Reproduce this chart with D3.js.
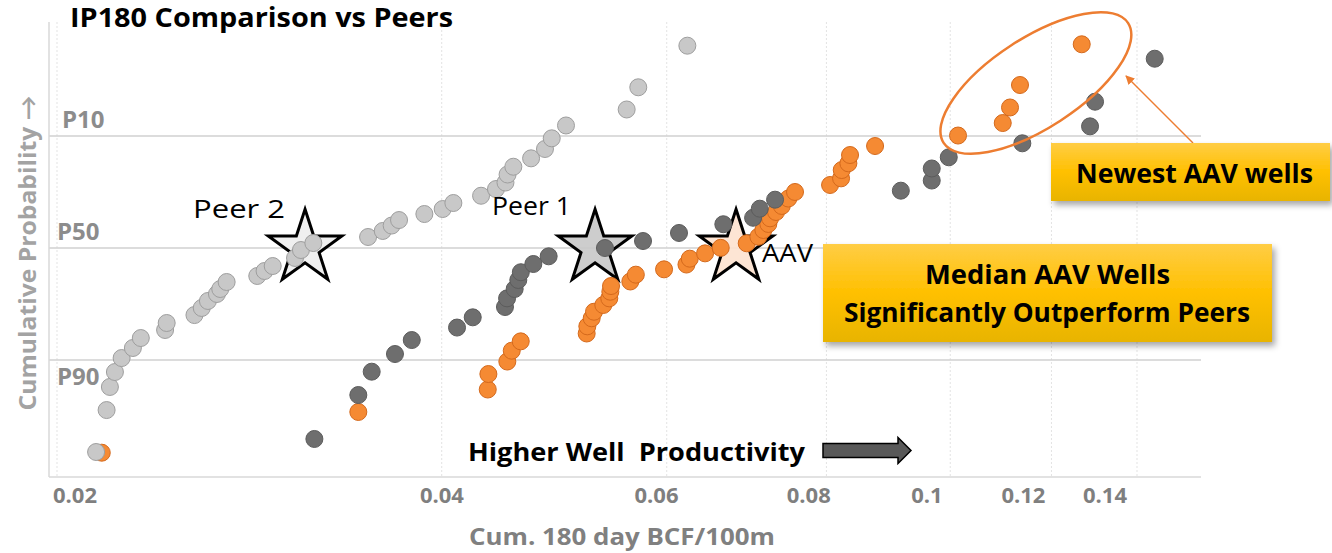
<!DOCTYPE html>
<html lang="en">
<head>
  <meta charset="UTF-8">
  <title>IP180 Comparison vs Peers</title>
  <style>
    * { margin: 0; }
    body { background: #fff; font-family: "Open Sans", Lato, Arial, sans-serif; }
    svg { display: block; }
    text { white-space: pre; }
    .tick-label { font-size: 22px; font-weight: bold; fill: #7f7f7f; }
    .p-label { font-size: 24px; font-weight: bold; fill: #8c8c8c; }
  </style>
</head>
<body>
  <div id="chart"></div>
  <script src="https://cdnjs.cloudflare.com/ajax/libs/d3/7.8.5/d3.min.js"></script>
  <script>
    // x = cum. 180 day BCF/100m, z = normal score of the plotting position
    const peer2X = [0.02146, 0.02187, 0.0220, 0.0222, 0.02247, 0.02293, 0.02326, 0.0243, 0.02437, 0.02562,
      0.02596, 0.02625, 0.02668, 0.02684, 0.02715, 0.02869, 0.02907, 0.0295, 0.03071, 0.03104,
      0.03174, 0.03503, 0.03597, 0.03655, 0.03704, 0.03877, 0.04007, 0.04085, 0.04294, 0.04411,
      0.04487, 0.04504, 0.04551, 0.04699, 0.04818, 0.04877, 0.05004, 0.05582, 0.0570, 0.06227];
    const peer2Z = [-2.334, -1.854, -1.590, -1.419, -1.259, -1.144, -1.030, -0.938, -0.858, -0.767,
      -0.686, -0.606, -0.526, -0.469, -0.389, -0.320, -0.263, -0.206, -0.114, -0.023,
      0.057, 0.126, 0.195, 0.257, 0.320, 0.389, 0.446, 0.515, 0.598, 0.675,
      0.749, 0.841, 0.930, 1.026, 1.133, 1.255, 1.402, 1.585, 1.839, 2.315];

    const peer1X = [0.0318, 0.03442, 0.03526, 0.03677, 0.0379, 0.04112, 0.0423, 0.04483, 0.045, 0.04562,
      0.04592, 0.04613, 0.04718, 0.0485, 0.05368, 0.05749, 0.06134, 0.06644, 0.0701, 0.07095,
      0.07293, 0.09148, 0.09672, 0.09672, 0.09973, 0.11387, 0.12864, 0.12981, 0.14454];
    const peer1Z = [-2.185, -1.682, -1.415, -1.213, -1.053, -0.910, -0.793, -0.675, -0.576, -0.469,
      -0.366, -0.277, -0.183, -0.095, 0, 0.080, 0.172, 0.272, 0.346, 0.450,
      0.553, 0.656, 0.772, 0.910, 1.038, 1.198, 1.392, 1.674, 2.166];

    const aavX = [0.02168, 0.03442, 0.04346, 0.04351, 0.04502, 0.04538, 0.04612, 0.05194, 0.052, 0.05241,
      0.05263, 0.05352, 0.0541, 0.0542, 0.05427, 0.05619, 0.05675, 0.05971, 0.06217, 0.06254,
      0.06429, 0.06613, 0.0693, 0.07077, 0.07141, 0.07205, 0.07228, 0.07306, 0.07382, 0.0747,
      0.0756, 0.08053, 0.08214, 0.08224, 0.08323, 0.08348, 0.08733, 0.10141, 0.10992, 0.11137,
      0.11339, 0.12673];
    const aavZ = [-2.342, -1.876, -1.619, -1.442, -1.299, -1.175, -1.068, -0.978, -0.896, -0.804,
      -0.729, -0.652, -0.576, -0.500, -0.435, -0.383, -0.305, -0.244, -0.189, -0.122,
      -0.061, 0.002, 0.054, 0.129, 0.206, 0.275, 0.340, 0.412, 0.481, 0.566,
      0.641, 0.721, 0.797, 0.892, 0.969, 1.064, 1.167, 1.287, 1.430, 1.608,
      1.865, 2.331];

    // newest AAV wells (circled)
    const newestX = [0.10141, 0.10992, 0.11137, 0.11339, 0.12673];

    const medianNames = ['Peer 2', 'Peer 1', 'AAV'];
    const medianX = [0.03127, 0.05273, 0.06798];

    const xTicks = [0.02, 0.04, 0.06, 0.08, 0.1, 0.12, 0.14];
    const xTickLabels = ['0.02', '0.04', '0.06', '0.08', '0.1', '0.12', '0.14'];
    const pTicks = [10, 50, 90];
    const pTickLabels = ['P10', 'P50', 'P90'];

    const W = 1332, H = 553;
    const svg = d3.select('#chart').append('svg').attr('width', W).attr('height', H);

    // inverse normal cdf (Acklam)
    function probit(p) {
      const a = [-39.6968302866538, 220.946098424521, -275.928510446969, 138.357751867269, -30.6647980661472, 2.50662827745924];
      const b = [-54.4761088283004, 161.585836858041, -155.698979859887, 66.8013118877197, -13.2806815528857];
      const c = [-0.00778489400243029, -0.322396458041136, -2.40075827716184, -2.54973253934373, 4.37466414146497, 2.93816398269878];
      const d = [0.00778469570904146, 0.32246712907004, 2.445134137143, 3.75440866190742];
      const pl = 0.02425;
      let q, r;
      if (p < pl) {
        q = Math.sqrt(-2 * Math.log(p));
        return (((((c[0] * q + c[1]) * q + c[2]) * q + c[3]) * q + c[4]) * q + c[5]) / ((((d[0] * q + d[1]) * q + d[2]) * q + d[3]) * q + 1);
      }
      if (p > 1 - pl) return -probit(1 - p);
      q = p - 0.5; r = q * q;
      return (((((a[0] * r + a[1]) * r + a[2]) * r + a[3]) * r + a[4]) * r + a[5]) * q / (((((b[0] * r + b[1]) * r + b[2]) * r + b[3]) * r + b[4]) * r + 1);
    }

    const plot = { left: 49, right: 1201, top: 22, bottom: 477 };
    const x = d3.scaleLog().domain([0.02, 0.14]).range([57, 1137]);
    // tick labels in the source sit on a slightly compressed copy of the axis
    const xLab = d3.scaleLog().domain([0.02, 0.14]).range([75, 1105]);
    const y = d3.scaleLinear().domain([-2.62, 2.586]).range([plot.bottom, plot.top]);
    const pz = p => probit(1 - p / 100);

    const defs = svg.append('defs');
    const grad = defs.append('linearGradient').attr('id', 'gold').attr('x1', 0).attr('y1', 0).attr('x2', 0).attr('y2', 1);
    grad.append('stop').attr('offset', '0%').attr('stop-color', '#ffcd45');
    grad.append('stop').attr('offset', '50%').attr('stop-color', '#ffc000');
    grad.append('stop').attr('offset', '100%').attr('stop-color', '#e8b400');
    const shadow = defs.append('filter').attr('id', 'shadow').attr('x', '-10%').attr('y', '-20%').attr('width', '130%').attr('height', '150%');
    shadow.append('feDropShadow').attr('dx', 3).attr('dy', 4).attr('stdDeviation', 3).attr('flood-color', '#000').attr('flood-opacity', 0.35);
    defs.append('marker').attr('id', 'arrowhead').attr('viewBox', '0 0 10 10').attr('refX', 9).attr('refY', 5)
      .attr('markerWidth', 9).attr('markerHeight', 9).attr('markerUnits', 'userSpaceOnUse').attr('orient', 'auto')
      .append('path').attr('d', 'M0,0L10,5L0,10Z').attr('fill', '#ed7d31');

    // grid
    svg.append('g').selectAll('line').data(xTicks).join('line')
      .attr('x1', d => x(d)).attr('x2', d => x(d))
      .attr('y1', plot.top).attr('y2', plot.bottom)
      .attr('stroke', '#e3e3e3').attr('stroke-width', 1).attr('stroke-dasharray', '2,2');
    svg.append('g').selectAll('line').data(pTicks).join('line')
      .attr('x1', plot.left).attr('x2', plot.right)
      .attr('y1', d => y(pz(d))).attr('y2', d => y(pz(d)))
      .attr('stroke', '#d0d0d0').attr('stroke-width', 1.5);
    svg.append('line').attr('x1', plot.left).attr('x2', plot.right).attr('y1', plot.bottom).attr('y2', plot.bottom)
      .attr('stroke', '#d9d9d9').attr('stroke-width', 1.5);
    svg.append('line').attr('x1', plot.left).attr('x2', plot.left).attr('y1', plot.top).attr('y2', plot.bottom)
      .attr('stroke', '#d9d9d9').attr('stroke-width', 1.5);

    // tick labels
    svg.append('g').selectAll('text').data(xTicks).join('text')
      .attr('class', 'tick-label').attr('text-anchor', 'middle')
      .attr('x', d => xLab(d)).attr('y', 503)
      .text((d, i) => xTickLabels[i]);
    svg.append('g').selectAll('text').data(pTicks).join('text')
      .attr('class', 'p-label')
      .attr('x', (d, i) => i === 0 ? 62 : 57)
      .attr('y', d => d === 90 ? y(pz(d)) + 25 : y(pz(d)) - 8)
      .text((d, i) => pTickLabels[i]);

    // helper: text stretched to the width it has in the source
    function label(txt, xPos, yPos, size, weight, width, anchor) {
      return svg.append('text').attr('x', xPos).attr('y', yPos)
        .attr('text-anchor', anchor || 'start')
        .attr('textLength', width).attr('lengthAdjust', 'spacingAndGlyphs')
        .style('font-size', size + 'px').style('font-weight', weight)
        .text(txt);
    }

    // axis titles
    label('Cum. 180 day BCF/100m', 622, 545, 23, 'bold', 306, 'middle').style('fill', '#808080');
    label('Cumulative Probability →', 0, 0, 23, 'bold', 315, 'middle')
      .attr('transform', 'translate(36,253) rotate(-90)').style('fill', '#a3a3a3');

    // title
    label('IP180 Comparison vs Peers', 70, 27, 26, 'bold', 383);

    // median stars
    const starFill = ['#eeeeee', '#c8c8c8', '#fde2cf'];
    const star = d3.symbol(d3.symbolStar, 1680);
    svg.append('g').selectAll('path').data(medianX).join('path')
      .attr('d', star)
      .attr('transform', d => `translate(${x(d)},${y(0)})`)
      .attr('fill', (d, i) => starFill[i]).attr('fill-opacity', 0.9)
      .attr('stroke', '#000').attr('stroke-width', 3).attr('stroke-linejoin', 'miter');

    // points
    const series = [
      { xs: aavX, zs: aavZ, fill: '#f58a33', stroke: '#d4691c' },
      { xs: peer1X, zs: peer1Z, fill: '#6e6e6e', stroke: '#5c5c5c' },
      { xs: peer2X, zs: peer2Z, fill: '#c8c8c8', stroke: '#9e9e9e' }
    ];
    series.forEach(s => {
      svg.append('g').selectAll('circle').data(s.xs).join('circle')
        .attr('cx', d => x(d)).attr('cy', (d, i) => y(s.zs[i])).attr('r', 8.5)
        .attr('fill', s.fill).attr('stroke', s.stroke).attr('stroke-width', 1);
    });

    // star labels
    label(medianNames[0], x(medianX[0]) - 112, 218, 25, 'normal', 92);
    label(medianNames[1], x(medianX[1]) - 103, 215, 25, 'normal', 79);
    label(medianNames[2], x(medianX[2]) + 26, 262, 25, 'normal', 51);

    // ellipse round the newest wells
    const nx = d3.extent(newestX.map(x));
    const ex = (nx[0] + nx[1]) / 2 + 16, ey = 83;
    svg.append('ellipse').attr('cx', 0).attr('cy', 0).attr('rx', 110).attr('ry', 45)
      .attr('transform', `translate(${ex},${ey}) rotate(-33)`)
      .attr('fill', 'none').attr('stroke', '#ed7d31').attr('stroke-width', 2.5);
    svg.append('line').attr('x1', 1193).attr('y1', 143).attr('x2', 1126).attr('y2', 76)
      .attr('stroke', '#ed7d31').attr('stroke-width', 1.5).attr('marker-end', 'url(#arrowhead)');

    // callouts
    svg.append('rect').attr('x', 1051).attr('y', 143).attr('width', 279).attr('height', 58)
      .attr('fill', 'url(#gold)').attr('filter', 'url(#shadow)');
    label('Newest AAV wells', 1076, 183, 27, 'bold', 237);
    svg.append('rect').attr('x', 823).attr('y', 244).attr('width', 449).attr('height', 98)
      .attr('fill', 'url(#gold)').attr('filter', 'url(#shadow)');
    label('Median AAV Wells', 925, 284, 27, 'bold', 245);
    label('Significantly Outperform Peers', 844, 322, 27, 'bold', 406);

    // higher productivity note
    label('Higher Well  Productivity', 468, 461, 25, 'bold', 337);
    svg.append('path')
      .attr('d', 'M823,443.5L898,443.5L898,437.5L911,450.5L898,463.5L898,457.5L823,457.5Z')
      .attr('fill', '#595959').attr('stroke', '#000').attr('stroke-width', 1.5);
  </script>
</body>
</html>
